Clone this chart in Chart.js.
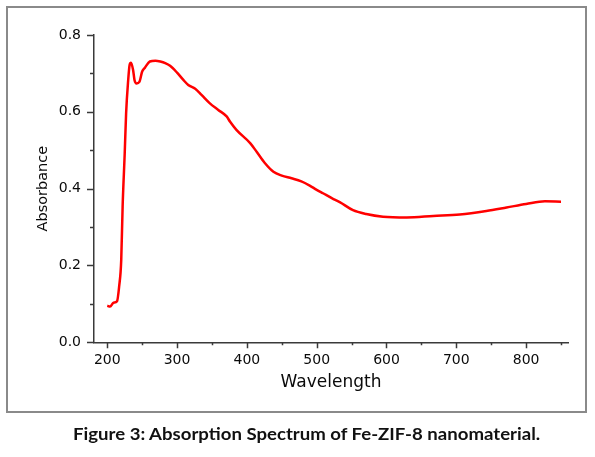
<!DOCTYPE html>
<html>
<head>
<meta charset="utf-8">
<script src="https://cdn.jsdelivr.net/npm/chart.js@4.4.1/dist/chart.umd.min.js"></script>
<style>
  html, body { margin: 0; padding: 0; background: #ffffff; }
  #wrap { position: relative; width: 595px; height: 457px; overflow: hidden; }
  #frame { position: absolute; left: 6px; top: 6px; width: 581px; height: 407px;
           box-sizing: border-box; border: 2px solid #8a8a8a; }
  #cv { position: absolute; left: 0; top: 0; }
  #caption { position: absolute; left: 73px; top: 423px; white-space: nowrap;
             font-family: Lato, "Liberation Sans", sans-serif; font-weight: bold;
             font-size: 17px; line-height: 22px; color: #111; transform-origin: 0 50%; }
</style>
</head>
<body>
<div id="wrap">
  <div id="frame"></div>
  <canvas id="cv" width="595" height="457"></canvas>
  <div id="caption">Figure 3: Absorption Spectrum of Fe-ZIF-8 nanomaterial.</div>
</div>
<script>
// ---- data ----
const wavelength = [200,204,209,214,217,220,222,225,227,230,232,234,237,239,242,246,250,254,261,269,276,283,290,300,309,316,326,335,347,359,371,376,385,405,414,426,438,450,464,478,490,500,509,524,533,552,571,595,629,667,705,743,772,800,827,850];
const absorbance = [0.095,0.093,0.103,0.107,0.145,0.214,0.353,0.492,0.596,0.683,0.722,0.728,0.709,0.683,0.674,0.678,0.705,0.715,0.731,0.733,0.731,0.727,0.720,0.702,0.683,0.670,0.660,0.644,0.622,0.605,0.588,0.574,0.553,0.518,0.496,0.466,0.444,0.434,0.427,0.419,0.408,0.397,0.388,0.373,0.365,0.344,0.334,0.327,0.325,0.329,0.333,0.342,0.351,0.360,0.367,0.366];
const xTickLabels = [200,300,400,500,600,700,800];
const yTickLabels = ['0.0','0.2','0.4','0.6','0.8'];
const xTitle = 'Wavelength';
const yTitle = 'Absorbance';

const AXIS_COLOR = '#3a3a3a';
const TEXT_COLOR = '#0a0a0a';

const points = wavelength.map((w, i) => ({ x: w, y: absorbance[i] }));

const tickMarks = {
  id: 'tickMarks',
  afterDraw(chart) {
    const ctx = chart.ctx;
    const xs = chart.scales.x, ys = chart.scales.y;
    ctx.save();
    ctx.strokeStyle = AXIS_COLOR;
    ctx.lineWidth = 1.5;
    ctx.beginPath();
    xs.ticks.forEach(t => {
      const major = xTickLabels.includes(Math.round(t.value));
      const px = Math.round(xs.getPixelForValue(t.value)) + 0.5;
      ctx.moveTo(px, xs.top);
      ctx.lineTo(px, xs.top + (major ? 6 : 3));
    });
    ys.ticks.forEach(t => {
      const major = yTickLabels.includes(t.value.toFixed(1));
      const py = Math.round(ys.getPixelForValue(t.value)) + 0.5;
      ctx.moveTo(ys.right, py);
      ctx.lineTo(ys.right - (major ? 7 : 4), py);
    });
    ctx.stroke();
    ctx.restore();
  }
};

new Chart(document.getElementById('cv'), {
  type: 'line',
  data: {
    datasets: [{
      data: points,
      borderColor: '#ff0000',
      borderWidth: 2.5,
      pointRadius: 0,
      fill: false,
      cubicInterpolationMode: 'monotone'
    }]
  },
  options: {
    responsive: false,
    animation: false,
    devicePixelRatio: 1,
    layout: { padding: { top: 35, right: 27, left: 0, bottom: 0 } },
    plugins: { legend: { display: false }, tooltip: { enabled: false } },
    scales: {
      x: {
        type: 'linear',
        min: 181, max: 860,
        afterFit(s) { s.height = 114.7; },
        border: { display: true, color: AXIS_COLOR, width: 1.5 },
        grid: { display: true, drawOnChartArea: false, drawTicks: false, color: 'rgba(0,0,0,0)' },
        ticks: {
          stepSize: 50, includeBounds: false, autoSkip: false, maxRotation: 0,
          padding: 10, color: TEXT_COLOR,
          font: { family: '"DejaVu Sans"', size: 14 },
          callback: v => xTickLabels.includes(Math.round(v)) ? String(Math.round(v)) : ''
        },
        title: {
          display: true, text: xTitle, color: TEXT_COLOR,
          font: { family: '"DejaVu Sans"', size: 17 },
          padding: { top: 0, bottom: 64 }
        }
      },
      y: {
        type: 'linear',
        min: 0, max: 0.8,
        afterFit(s) { s.width = 94; },
        border: { display: true, color: AXIS_COLOR, width: 1.5 },
        grid: { display: true, drawOnChartArea: false, drawTicks: false, color: 'rgba(0,0,0,0)' },
        ticks: {
          stepSize: 0.1, autoSkip: false, includeBounds: false,
          padding: 13, color: TEXT_COLOR,
          font: { family: '"DejaVu Sans"', size: 14 },
          callback: v => yTickLabels.includes(v.toFixed(1)) ? v.toFixed(1) : ''
        },
        title: {
          display: true, text: yTitle, color: TEXT_COLOR,
          font: { family: '"DejaVu Sans"', size: 14.5 },
          padding: { top: 35, bottom: 0 }
        }
      }
    }
  },
  plugins: [tickMarks]
});

// fit caption width to the reference width
const cap = document.getElementById('caption');
const w = cap.offsetWidth;
if (w > 0) cap.style.transform = 'scaleX(' + (467 / w) + ')';
</script>
</body>
</html>
